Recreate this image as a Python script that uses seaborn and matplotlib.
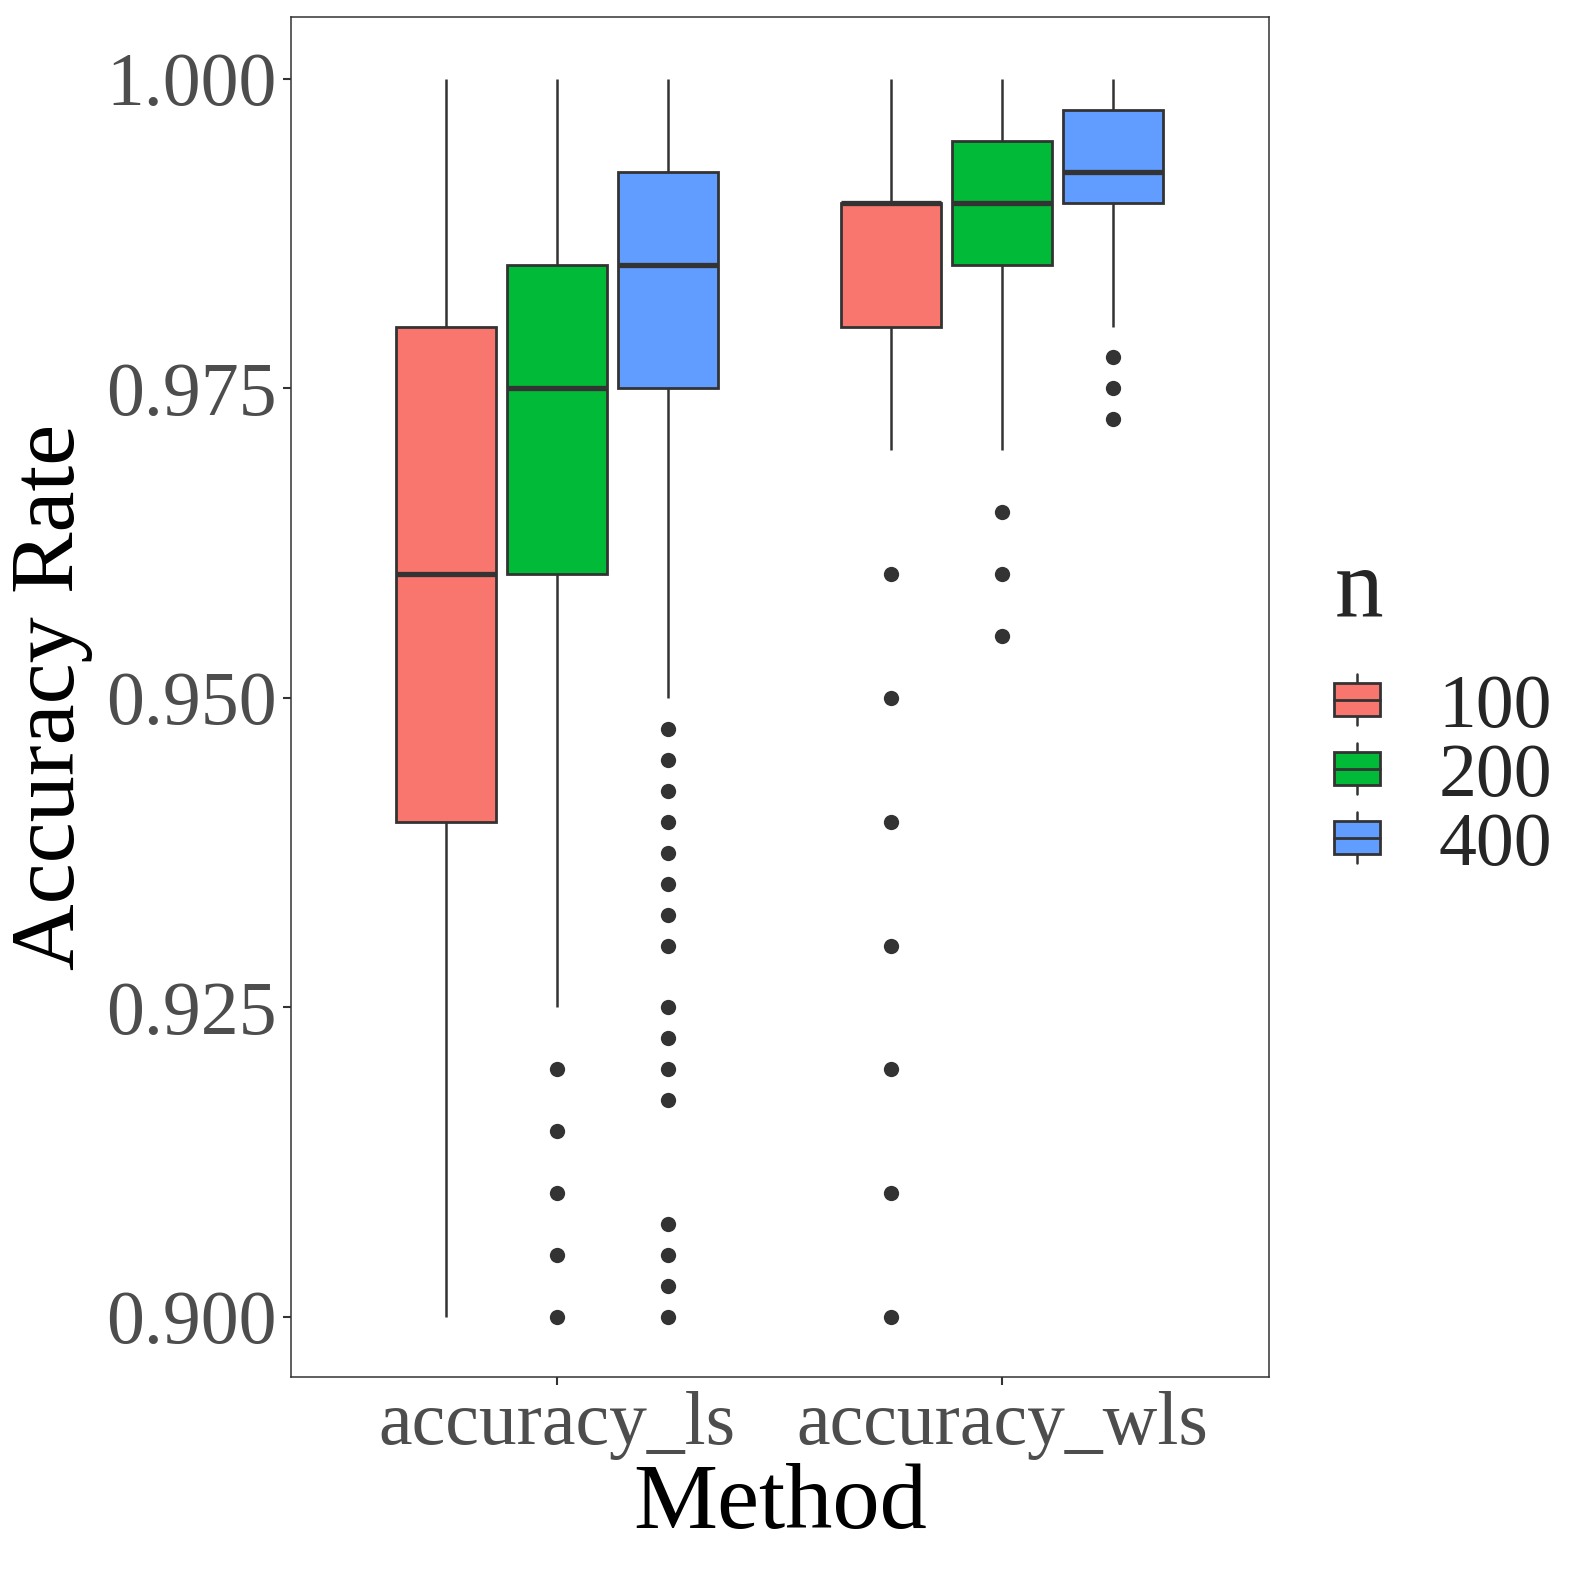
import numpy as np
import pandas as pd
import seaborn as sns
import matplotlib
matplotlib.use("Agg")
import matplotlib.pyplot as plt
from matplotlib.legend_handler import HandlerBase
from matplotlib.patches import Rectangle
from matplotlib.lines import Line2D

# ---- data (box statistics per group) ----
methods = ["accuracy_ls", "accuracy_wls"]
sizes = ["100", "200", "400"]
colors = ["#F8766D", "#00BA38", "#619CFF"]

# order: (method, n) for ls-100, ls-200, ls-400, wls-100, wls-200, wls-400
group_method = ["accuracy_ls"] * 3 + ["accuracy_wls"] * 3
group_n = ["100", "200", "400", "100", "200", "400"]
whisker_low = [0.900, 0.925, 0.950, 0.970, 0.970, 0.980]
q1 = [0.940, 0.960, 0.975, 0.980, 0.985, 0.990]
median = [0.960, 0.975, 0.985, 0.990, 0.990, 0.9925]
q3 = [0.980, 0.985, 0.9925, 0.990, 0.995, 0.9975]
whisker_high = [1.000, 1.000, 1.000, 1.000, 1.000, 1.000]
outliers = [
    [],
    [0.920, 0.915, 0.910, 0.905, 0.900],
    [0.9475, 0.945, 0.9425, 0.940, 0.9375, 0.935, 0.9325, 0.930,
     0.925, 0.9225, 0.920, 0.9175, 0.9075, 0.905, 0.9025, 0.900],
    [0.960, 0.950, 0.940, 0.930, 0.920, 0.910, 0.900],
    [0.965, 0.960, 0.955],
    [0.9775, 0.975, 0.9725],
]

# Build a long table whose quartiles / whiskers / outliers reproduce the stats
K = 20
rows = []
for i in range(len(group_method)):
    low = sorted(outliers[i]) + [whisker_low[i]] * (K - len(outliers[i]))
    vals = (low + [q1[i]] * K + [median[i]] * K + [q3[i]] * K + [whisker_high[i]])
    for v in vals:
        rows.append((group_method[i], group_n[i], v))
df = pd.DataFrame(rows, columns=["Method", "n", "Accuracy Rate"])

# ---- styling ----
sns.set_theme(style="white")
plt.rcParams["font.family"] = ["Liberation Serif", "DejaVu Serif"]

fig = plt.figure(figsize=(15.78, 15.78), dpi=100)
ax = fig.add_axes([0.1844, 0.1274, 0.8042 - 0.1844, 0.9892 - 0.1274])

edge = "#333333"
sns.boxplot(
    data=df, x="Method", y="Accuracy Rate", hue="n",
    order=methods, hue_order=sizes, palette=colors,
    width=0.75, gap=0.1, saturation=1, ax=ax, legend=False,
    linecolor=edge, linewidth=2.0,
    whiskerprops=dict(color=edge, linewidth=1.8),
    capprops=dict(linewidth=0),
    medianprops=dict(color=edge, linewidth=3.8),
    flierprops=dict(marker="o", markersize=11, markerfacecolor=edge,
                    markeredgecolor=edge, markeredgewidth=0),
)

ax.set_xlim(-0.5978, 1.6)
ax.set_ylim(0.89515, 1.005)
ax.set_yticks([0.900, 0.925, 0.950, 0.975, 1.000])
ax.set_yticklabels(["0.900", "0.925", "0.950", "0.975", "1.000"])

for s in ax.spines.values():
    s.set_color(edge)
    s.set_linewidth(1.1)
ax.tick_params(axis="both", which="major", length=6, width=1.5, color=edge,
               labelsize=54.5, labelcolor="#4D4D4D", pad=4,
               left=True, bottom=True)
ax.set_xlabel("Method", fontsize=68, color="black", labelpad=2)
ax.set_ylabel("Accuracy Rate", fontsize=66.5, color="black", labelpad=10)
ax.grid(False)


class BoxHandler(HandlerBase):
    def create_artists(self, legend, orig_handle, xdescent, ydescent,
                       width, height, fontsize, trans):
        fc = orig_handle.get_facecolor()
        cx = -xdescent + width / 2
        bh = height * 0.75
        by = -ydescent + (height - bh) / 2
        ext = height * 0.22
        wl = Line2D([cx, cx], [by - ext, by + bh + ext], color=edge,
                    linewidth=1.8, transform=trans)
        rect = Rectangle((-xdescent, by), width, bh, facecolor=fc,
                         edgecolor=edge, linewidth=2.0, transform=trans)
        med = Line2D([-xdescent, -xdescent + width], [by + bh / 2] * 2,
                     color=edge, linewidth=2.0, transform=trans)
        return [wl, rect, med]


handles = [Rectangle((0, 0), 1, 1, facecolor=c) for c in colors]
leg = fig.legend(handles, sizes, handler_map={Rectangle: BoxHandler()},
                 loc="upper left", bbox_to_anchor=(0.8217, 0.677),
                 frameon=False, fontsize=54.5, title="n", title_fontsize=70,
                 handlelength=0.6, handleheight=0.5, handletextpad=0.77,
                 labelspacing=0.0, borderpad=0)
leg._legend_box.align = "left"
leg._legend_box.sep = 27

fig.savefig("out.png", dpi=100)
